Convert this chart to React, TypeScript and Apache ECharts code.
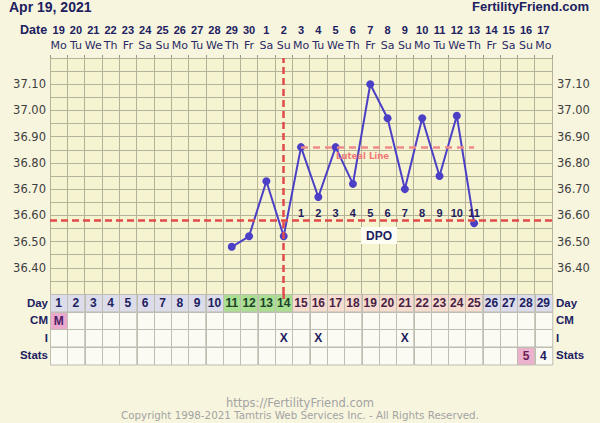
import React, { useEffect, useRef } from "react";
import * as echarts from "echarts";

const dates = ["19","20","21","22","23","24","25","26","27","28","29","30","1","2","3","4","5","6","7","8","9","10","11","12","13","14","15","16","17"];
const weekdays = ["Mo","Tu","We","Th","Fr","Sa","Su","Mo","Tu","We","Th","Fr","Sa","Su","Mo","Tu","We","Th","Fr","Sa","Su","Mo","Tu","We","Th","Fr","Sa","Su","Mo"];
const cycleDays = ["1","2","3","4","5","6","7","8","9","10","11","12","13","14","15","16","17","18","19","20","21","22","23","24","25","26","27","28","29"];
const temps: (number | null)[] = [null,null,null,null,null,null,null,null,null,null,36.48,36.52,36.73,36.52,36.86,36.67,36.86,36.72,37.10,36.97,36.70,36.97,36.75,36.98,36.57,null,null,null,null];
const coverline = 36.58;
const lutealLine = 36.86;
const lutealFrom = 15;
const lutealTo = 25;
const ovulationDay = 14;
const fertileDays = [11, 12, 13, 14];
const lutealDays = [15,16,17,18,19,20,21,22,23,24,25];
const dpoLabels = ["1","2","3","4","5","6","7","8","9","10","11"];
const cmRow: Record<number, string> = { 1: "M" };
const intercourseRow: Record<number, string> = { 14: "X", 16: "X", 21: "X" };
const statsRow: Record<number, string> = { 28: "5", 29: "4" };
const rowNames = ["Day", "CM", "I", "Stats"];
const yMin = 36.3;
const yMax = 37.2;

const NAVY = "#20205e";
const SANS = '"Liberation Sans", Arial, sans-serif';
const DEJA = '"DejaVu Sans", Verdana, sans-serif';

type Cell = { col: number; row: number; text: string; fill: string; color: string };

function buildCells(): Cell[] {
  const cells: Cell[] = [];
  for (let d = 1; d <= cycleDays.length; d++) {
    const col = d - 1;
    let fill = "#dcdcea";
    let color = NAVY;
    if (fertileDays.includes(d)) { fill = "#aadf92"; color = "#1c4229"; }
    else if (lutealDays.includes(d)) { fill = "#f6ddd0"; color = "#4a1f45"; }
    cells.push({ col, row: 0, text: cycleDays[col], fill, color });
    const cm = cmRow[d] || "";
    cells.push({ col, row: 1, text: cm, fill: cm ? "#eaa9cd" : "#fbfbf3", color: "#4a1d66" });
    const it = intercourseRow[d] || "";
    cells.push({ col, row: 2, text: it, fill: "#fbfbf3", color: NAVY });
    const st = statsRow[d] || "";
    cells.push({ col, row: 3, text: st, fill: st === "5" ? "#ebb1cd" : "#fbfbf3", color: st === "5" ? "#6a1f55" : NAVY });
  }
  return cells;
}

export default function App() {
  const ref = useRef<HTMLDivElement>(null);
  useEffect(() => {
    if (!ref.current) return;
    const chart = echarts.init(ref.current, null, { renderer: "svg" });
    const cells = buildCells();
    const yFmt = (v: number) => {
      const c = Math.round(v * 100);
      if (c % 10 !== 0 || c === Math.round(yMax * 100) || c === Math.round(yMin * 100)) return "";
      return v.toFixed(2);
    };
    const gridLine = { show: true, lineStyle: { color: "#b4b39a", width: 1 } };
    const dpoData = dpoLabels.map((t, i) => [lutealFrom - 1 + i, coverline]);

    chart.setOption({
      animation: false,
      backgroundColor: "#f7f5de",
      grid: [
        { left: 50, right: 48, top: 58, height: 236, show: true, backgroundColor: "#f6f4d0", borderWidth: 0 },
        { left: 50, right: 48, top: 294, height: 70 },
      ],
      xAxis: [
        {
          type: "category", gridIndex: 0, position: "top", data: dates, boundaryGap: true,
          axisLine: { show: false },
          axisTick: { show: true, length: 3, interval: 0, lineStyle: { color: "#9a9a88" } },
          axisLabel: { interval: 0, margin: 23, color: NAVY, fontWeight: "bold", fontSize: 11, fontFamily: SANS },
          splitLine: { ...gridLine, interval: 0 },
        },
        {
          type: "category", gridIndex: 0, position: "top", data: weekdays, boundaryGap: true,
          axisLine: { show: false }, axisTick: { show: false },
          axisLabel: { interval: 0, margin: 7, color: "#2a2a66", fontSize: 11, fontFamily: DEJA },
          splitLine: { show: false },
        },
        {
          type: "category", gridIndex: 1, data: cycleDays, boundaryGap: true,
          axisLine: { show: false }, axisTick: { show: false }, axisLabel: { show: false }, splitLine: { show: false },
        },
      ],
      yAxis: [
        {
          type: "value", gridIndex: 0, min: yMin, max: yMax, interval: 0.05, position: "left",
          axisLine: { show: false }, axisTick: { show: false },
          axisLabel: { formatter: yFmt, margin: 4, color: "#3e3e3e", fontSize: 11.5, fontFamily: DEJA },
          splitLine: gridLine,
        },
        {
          type: "value", gridIndex: 0, min: yMin, max: yMax, interval: 0.05, position: "right",
          axisLine: { show: false }, axisTick: { show: false },
          axisLabel: { formatter: yFmt, margin: 5, color: "#3e3e3e", fontSize: 11.5, fontFamily: DEJA },
          splitLine: { show: false },
        },
        {
          type: "category", gridIndex: 1, data: rowNames, inverse: true, position: "left",
          axisLine: { show: false }, axisTick: { show: false },
          axisLabel: { margin: 2, color: NAVY, fontWeight: "bold", fontSize: 11.5, fontFamily: SANS },
        },
        {
          type: "category", gridIndex: 1, data: rowNames, inverse: true, position: "right",
          axisLine: { show: false }, axisTick: { show: false },
          axisLabel: { margin: 4, color: NAVY, fontWeight: "bold", fontSize: 11.5, fontFamily: SANS },
        },
      ],
      series: [
        {
          type: "custom",
          xAxisIndex: 2, yAxisIndex: 2,
          silent: true,
          data: cells.map((c) => [c.col, c.row]),
          encode: { x: 0, y: 1 },
          renderItem: (params: any, api: any) => {
            const cell = cells[params.dataIndex];
            const p = api.coord([api.value(0), api.value(1)]);
            const s = api.size([1, 1]);
            const children: any[] = [
              {
                type: "rect",
                shape: { x: Math.round(p[0] - s[0] / 2) + 0.5, y: Math.round(p[1] - s[1] / 2) + 0.5, width: s[0], height: s[1] },
                style: { fill: cell.fill, stroke: "#bdbdb0", lineWidth: 1 },
              },
              {
                type: "text",
                style: {
                  text: cell.text, x: p[0], y: p[1] + 0.5,
                  align: "center", verticalAlign: "middle", textAlign: "center", textVerticalAlign: "middle",
                  fill: cell.color, font: `bold 12px ${SANS}`,
                },
              },
            ];
            if (cell.row === 0 && cell.col === ovulationDay - 1) {
              const top = p[1] - s[1] / 2;
              children.push({
                type: "line",
                shape: { x1: p[0], y1: top, x2: p[0], y2: top + 5 },
                style: { stroke: "#e04a4a", lineWidth: 2.5 },
              });
            }
            return { type: "group", children };
          },
        },
        {
          type: "line",
          xAxisIndex: 0, yAxisIndex: 0,
          data: temps,
          connectNulls: false,
          symbol: "circle", symbolSize: 8,
          itemStyle: { color: "#4b3fc6" },
          lineStyle: { color: "#4b3fc6", width: 2 },
          z: 3,
          markLine: {
            silent: true, symbol: "none", label: { show: false },
            data: [
              { yAxis: coverline, lineStyle: { color: "#e04a4a", width: 2.5, type: [7, 4] } },
              { xAxis: ovulationDay - 1, lineStyle: { color: "#e04a4a", width: 2.5, type: [7, 4] } },
              [
                { coord: [lutealFrom - 1, lutealLine], lineStyle: { color: "#f08a8a", width: 2.5, type: [7, 5] } },
                { coord: [lutealTo - 1, lutealLine] },
              ],
            ],
          },
        },
        {
          type: "custom",
          xAxisIndex: 0, yAxisIndex: 0,
          silent: true,
          data: dpoData,
          encode: { x: 0, y: 1 },
          z: 4,
          renderItem: (params: any, api: any) => {
            const p = api.coord([api.value(0), api.value(1)]);
            return {
              type: "text",
              style: {
                text: dpoLabels[params.dataIndex], x: p[0], y: p[1] - 8,
                align: "center", verticalAlign: "middle", textAlign: "center", textVerticalAlign: "middle",
                fill: NAVY, font: `bold 11px ${SANS}`,
              },
            };
          },
        },
      ],
      graphic: [
        { type: "text", left: 9, top: 0, style: { text: "Apr 19, 2021", fill: NAVY, font: `bold 14px ${SANS}` } },
        { type: "text", right: 11, top: 0, style: { text: "FertilityFriend.com", fill: NAVY, font: `bold 13px ${SANS}` } },
        { type: "text", left: 20, top: 23, style: { text: "Date", fill: NAVY, font: `bold 12.5px ${SANS}` } },
        { type: "text", left: 336, top: 151, z: 5, style: { text: "Luteal Line", fill: "#f07878", font: `bold 8.5px ${DEJA}` } },
        {
          type: "text", left: 361, top: 227, z: 5,
          style: { text: "DPO", fill: NAVY, font: `bold 12px ${SANS}`, backgroundColor: "#fdfdf2", padding: [3, 5, 2, 5] },
        },
        { type: "text", left: "center", top: 397, style: { text: "https://FertilityFriend.com", fill: "#a3a3a3", font: `11.5px ${DEJA}` } },
        { type: "text", left: "center", top: 410, style: { text: "Copyright 1998-2021 Tamtris Web Services Inc. - All Rights Reserved.", fill: "#a3a3a3", font: `10.3px ${DEJA}` } },
      ],
    });
    return () => chart.dispose();
  }, []);
  return <div ref={ref} style={{ position: "absolute", left: 0, top: 0, width: 600, height: 423 }} />;
}
